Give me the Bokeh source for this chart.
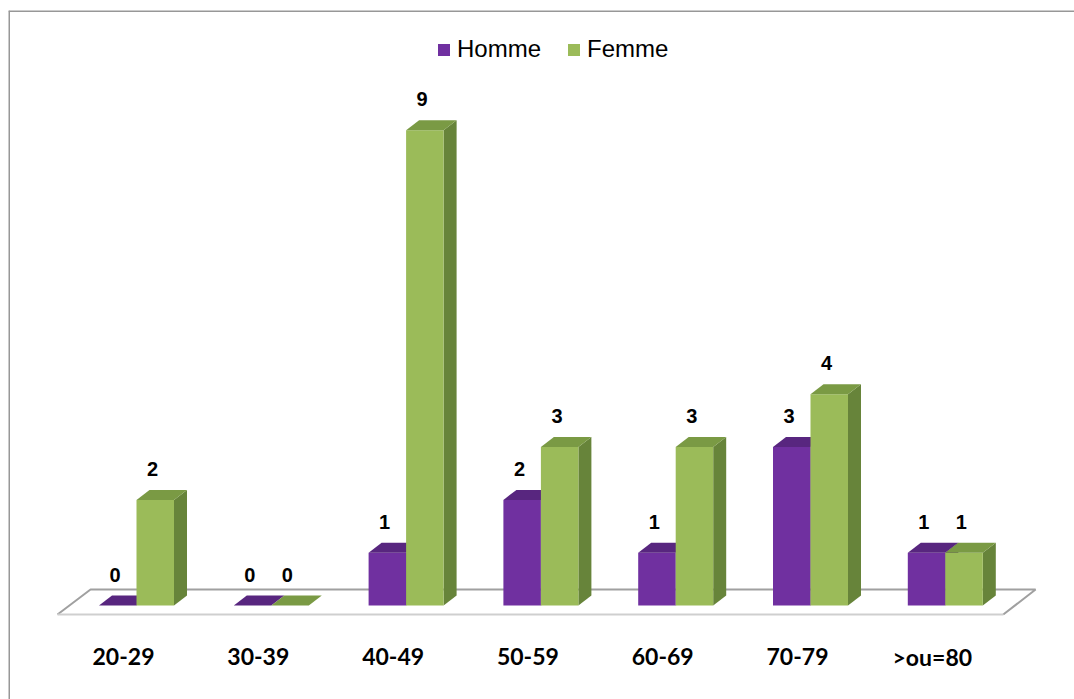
from bokeh.plotting import figure
from bokeh.models import Range1d, Legend, LegendItem, Span
from bokeh.core.properties import value
from bokeh.embed import file_html
from bokeh.resources import INLINE

# ---- data ----
categories = ["20-29", "30-39", "40-49", "50-59", "60-69", "70-79", ">ou=80"]
homme = [0, 0, 1, 2, 1, 3, 1]
femme = [2, 0, 9, 3, 3, 4, 1]
series_names = ["Homme", "Femme"]

# ---- styling ----
W, H = 1074, 699
BL, BT = 8, 10                  # border offsets
PX_X, PX_Y = 134.8, 52.8        # px per unit
X0_PX, Y0_PX = 136, 605         # pixel of category 0 / value 0
bw = 37.5 / PX_X                # bar width (units)
ddx, ddy = 13 / PX_X, 10 / PX_Y # depth offset

colors = {
    "Homme": dict(front="#7030a0", top="#58267f", side="#4e2270"),
    "Femme": dict(front="#9bbb59", top="#7a9a44", side="#67843a"),
}

xs = (BL - X0_PX) / PX_X
xe = (W - X0_PX) / PX_X
ye = (Y0_PX - BT) / PX_Y
ys = (Y0_PX - H) / PX_Y

p = figure(width=W, height=H, output_backend="svg", toolbar_location=None,
           x_range=Range1d(xs, xe), y_range=Range1d(ys, ye),
           x_axis_location=None, y_axis_location=None,
           min_border_left=BL, min_border_top=BT, min_border_right=0, min_border_bottom=0)
p.grid.visible = False
p.outline_line_color = None
p.background_fill_color = "white"
p.border_fill_color = "white"

# border lines (top and left)
p.add_layout(Span(location=xs, dimension="height", line_color="#979797", line_width=3))
p.add_layout(Span(location=ye, dimension="width", line_color="#979797", line_width=3))

# floor
n = len(categories)
f_front, f_back = -9 / PX_Y, 16 / PX_Y
fl_l, fl_r = -0.586, (n - 1) + 0.43
fb_l, fb_r = -0.341, (n - 1) + 0.67
p.patch([fl_l, fl_r, fb_r, fb_l], [f_front, f_front, f_back, f_back],
        fill_color="white", line_color=None)
p.line([fl_l, fb_l, fb_r, fl_r], [f_front, f_back, f_back, f_front],
       line_color="#a0a0a0", line_width=2)
p.line([fl_l, fl_r], [f_front, f_front], line_color="#cfcfcf", line_width=2)

front_renderers = {}
for i in range(n):
    for name, vals, x0 in (("Homme", homme, i - bw), ("Femme", femme, i)):
        v = vals[i]
        x1 = x0 + bw
        c = colors[name]
        if v > 0:
            # side face
            p.patch([x1, x1 + ddx, x1 + ddx, x1], [0, ddy, v + ddy, v],
                    fill_color=c["side"], line_color=None)
            r = p.quad(left=x0, right=x1, bottom=0, top=v,
                       fill_color=c["front"], line_color=None)
            front_renderers.setdefault(name, r)
        # top face
        p.patch([x0, x1, x1 + ddx, x0 + ddx], [v, v, v + ddy, v + ddy],
                fill_color=c["top"], line_color=None)

# data labels
lx, ly, lt = [], [], []
for i in range(n):
    lx += [i - bw / 2 - 0.02, i + bw / 2 - 0.02]
    ly += [homme[i] + 31 / PX_Y, femme[i] + 31 / PX_Y]
    lt += [str(homme[i]), str(femme[i])]
p.text(x=lx, y=ly, text=lt, text_font=value("Liberation Sans"), text_font_size="20px",
       text_font_style="bold", text_align="center", text_baseline="middle", text_color="black")

# category labels
p.text(x=[i - 13 / PX_X for i in range(n)], y=[(Y0_PX - 656) / PX_Y] * n, text=categories,
       text_font=value("Lato"), text_font_size="23px", text_font_style="bold",
       text_align="center", text_baseline="middle", text_color="black")

legend = Legend(items=[LegendItem(label=nm, renderers=[front_renderers[nm]]) for nm in series_names],
                orientation="horizontal", location=(428, 636),
                glyph_width=15, glyph_height=15, label_standoff=6, spacing=25,
                padding=0, margin=0, border_line_alpha=0, background_fill_alpha=0,
                label_text_font="Liberation Sans", label_text_font_size="24px",
                label_text_color="black")
p.add_layout(legend, "center")

open("out.html", "w").write(file_html(p, INLINE))
